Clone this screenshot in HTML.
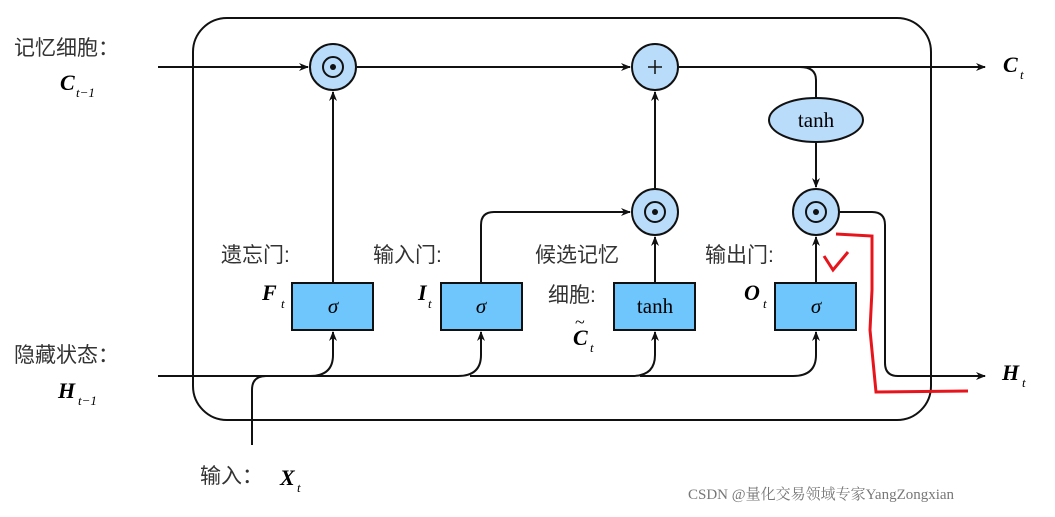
<!DOCTYPE html>
<html><head><meta charset="utf-8"><style>
body{margin:0;background:#fff;width:1055px;height:512px;overflow:hidden}
text{font-family:"Liberation Serif","Noto Serif CJK SC",serif}
.cn{font-family:"Liberation Sans","Noto Sans CJK SC",sans-serif;font-size:21px;fill:#333}
.m{font-style:italic;font-weight:bold;font-size:22px}
.s{font-style:italic;font-size:13px}
</style></head><body>
<svg width="1055" height="512" viewBox="0 0 1055 512">
<defs><marker id="a" markerWidth="10" markerHeight="8" refX="9" refY="4" orient="auto" markerUnits="userSpaceOnUse"><path d="M0,0 L10,4 L0,8 L3,4z" fill="#111"/></marker></defs>
<g fill="none" stroke="#111" stroke-width="2">
<rect x="193" y="18" width="738" height="402" rx="34"/>
<line x1="158" y1="67" x2="308" y2="67" marker-end="url(#a)"/>
<line x1="357" y1="67" x2="630" y2="67" marker-end="url(#a)"/>
<line x1="679" y1="67" x2="985" y2="67" marker-end="url(#a)"/>
<path d="M800,67 Q816,67 816,80 L816,98"/>
<line x1="816" y1="142" x2="816" y2="187" marker-end="url(#a)"/>
<line x1="333" y1="283" x2="333" y2="92" marker-end="url(#a)"/>
<line x1="655" y1="188" x2="655" y2="92" marker-end="url(#a)"/>
<path d="M481,283 L481,225 Q481,212 494,212 L630,212" marker-end="url(#a)"/>
<line x1="655" y1="283" x2="655" y2="237" marker-end="url(#a)"/>
<line x1="816" y1="283" x2="816" y2="237" marker-end="url(#a)"/>
<path d="M840,212 L872,212 Q885,212 885,225 L885,363 Q885,376 898,376 L985,376" marker-end="url(#a)"/>
<line x1="158" y1="376" x2="320" y2="376"/>
<path d="M252,445 L252,390 Q252,376 266,376"/>
<path d="M310,376 Q333,376 333,355 L333,332" marker-end="url(#a)"/>
<path d="M320,376 L458,376 Q481,376 481,355 L481,332" marker-end="url(#a)"/>
<path d="M470,376 L632,376 Q655,376 655,355 L655,332" marker-end="url(#a)"/>
<path d="M640,376 L793,376 Q816,376 816,355 L816,332" marker-end="url(#a)"/>
</g>
<g stroke="#111" stroke-width="2" fill="#b9dcfb">
<circle cx="333" cy="67" r="23"/><circle cx="655" cy="67" r="23"/>
<circle cx="655" cy="212" r="23"/><circle cx="816" cy="212" r="23"/>
<ellipse cx="816" cy="120" rx="47" ry="22"/>
</g>
<g stroke="#111" stroke-width="2" fill="none">
<circle cx="333" cy="67" r="10"/><circle cx="655" cy="212" r="10"/><circle cx="816" cy="212" r="10"/>
<path d="M648,67 h14 M655,60 v14" stroke-width="1.5"/>
</g>
<g fill="#111"><circle cx="333" cy="67" r="3"/><circle cx="655" cy="212" r="3"/><circle cx="816" cy="212" r="3"/></g>
<g stroke="#111" stroke-width="2" fill="#6ec6fc">
<rect x="292" y="283" width="81" height="47"/><rect x="441" y="283" width="81" height="47"/>
<rect x="614" y="283" width="81" height="47"/><rect x="775" y="283" width="81" height="47"/>
</g>
<g font-size="21" text-anchor="middle">
<text x="333" y="313" font-style="italic">σ</text><text x="481" y="313" font-style="italic">σ</text>
<text x="655" y="313">tanh</text><text x="816" y="313" font-style="italic">σ</text>
<text x="816" y="127">tanh</text>
</g>
<path d="M836,234 L872,236 L872,290 L870,330 L876,392 L968,391" fill="none" stroke="#e8141c" stroke-width="3"/>
<path d="M824,256 L833,270 L848,252" fill="none" stroke="#e8141c" stroke-width="3"/>
<text class="cn" x="14" y="55">记忆细胞：</text>
<text class="m" x="60" y="90">C</text><text class="s" x="76" y="97">t−1</text>
<text class="cn" x="14" y="362">隐藏状态：</text>
<text class="m" x="58" y="398">H</text><text class="s" x="78" y="405">t−1</text>
<text class="cn" x="200" y="483">输入：</text>
<text class="m" x="280" y="485">X</text><text class="s" x="297" y="492">t</text>
<text class="m" x="1003" y="72">C</text><text class="s" x="1020" y="79">t</text>
<text class="m" x="1002" y="380">H</text><text class="s" x="1022" y="387">t</text>
<text class="cn" x="221" y="262">遗忘门:</text>
<text class="m" x="262" y="300">F</text><text class="s" x="281" y="308">t</text>
<text class="cn" x="373" y="262">输入门:</text>
<text class="m" x="418" y="300">I</text><text class="s" x="428" y="308">t</text>
<text class="cn" x="535" y="262">候选记忆</text>
<text class="cn" x="548" y="302">细胞:</text>
<text class="m" x="573" y="345">C</text><text x="575" y="328" font-size="18">~</text><text class="s" x="590" y="352">t</text>
<text class="cn" x="705" y="262">输出门:</text>
<text class="m" x="744" y="300">O</text><text class="s" x="763" y="308">t</text>
<text x="688" y="499" font-family="Liberation Sans,Noto Sans CJK SC,sans-serif" font-size="15" fill="#777">CSDN @量化交易领域专家YangZongxian</text>
</svg>
</body></html>
